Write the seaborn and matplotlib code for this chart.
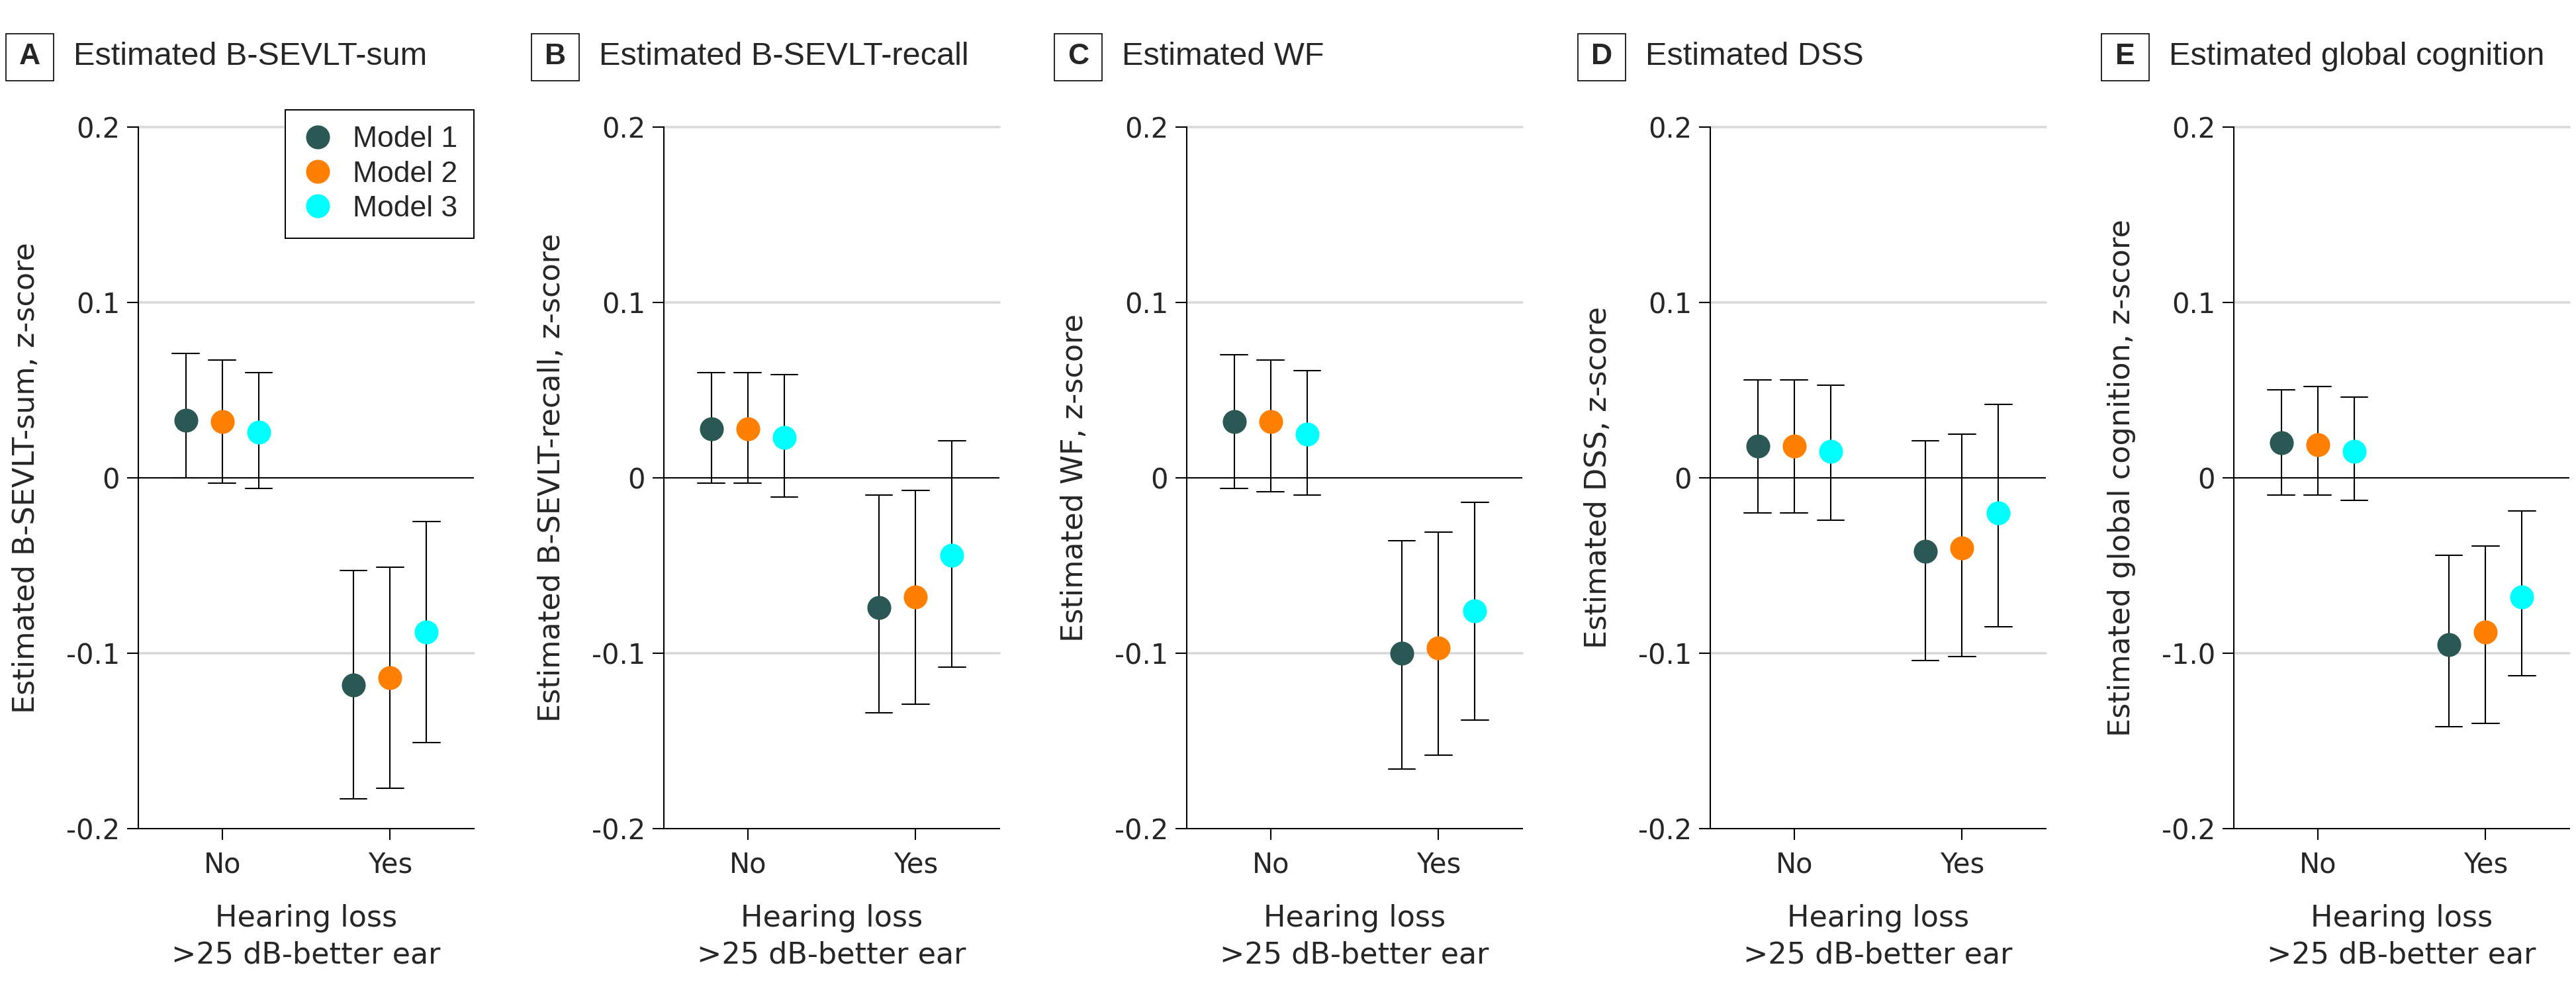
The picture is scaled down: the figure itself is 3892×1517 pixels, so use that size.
import numpy as np
import pandas as pd
import matplotlib
matplotlib.use('Agg')
import matplotlib.pyplot as plt
from matplotlib.lines import Line2D
from matplotlib.patches import Rectangle
import seaborn as sns

groups = ['No', 'Yes']
models = ['Model 1', 'Model 2', 'Model 3']
palette = ['#2b5755', '#ff8000', '#00ffff']

letters = ['A', 'B', 'C', 'D', 'E']
titles = ['Estimated B-SEVLT-sum', 'Estimated B-SEVLT-recall', 'Estimated WF',
          'Estimated DSS', 'Estimated global cognition']
ylabels = ['Estimated B-SEVLT-sum, z-score', 'Estimated B-SEVLT-recall, z-score',
           'Estimated WF, z-score', 'Estimated DSS, z-score',
           'Estimated global cognition, z-score']
yticks = [-0.2, -0.1, 0, 0.1, 0.2]
ytick_labels = ['-0.2', '-0.1', '0', '0.1', '0.2']
ytick_labels_e = ['-0.2', '-1.0', '0', '0.1', '0.2']

# order: No M1, No M2, No M3, Yes M1, Yes M2, Yes M3
sum_est = [0.033, 0.032, 0.026, -0.118, -0.114, -0.088]
sum_lo = [0.000, -0.003, -0.006, -0.183, -0.177, -0.151]
sum_hi = [0.071, 0.067, 0.060, -0.053, -0.051, -0.025]

recall_est = [0.028, 0.028, 0.023, -0.074, -0.068, -0.044]
recall_lo = [-0.003, -0.003, -0.011, -0.134, -0.129, -0.108]
recall_hi = [0.060, 0.060, 0.059, -0.010, -0.007, 0.021]

wf_est = [0.032, 0.032, 0.025, -0.100, -0.097, -0.076]
wf_lo = [-0.006, -0.008, -0.010, -0.166, -0.158, -0.138]
wf_hi = [0.070, 0.067, 0.061, -0.036, -0.031, -0.014]

dss_est = [0.018, 0.018, 0.015, -0.042, -0.040, -0.020]
dss_lo = [-0.020, -0.020, -0.024, -0.104, -0.102, -0.085]
dss_hi = [0.056, 0.056, 0.053, 0.021, 0.025, 0.042]

glob_est = [0.020, 0.019, 0.015, -0.095, -0.088, -0.068]
glob_lo = [-0.010, -0.010, -0.013, -0.142, -0.140, -0.113]
glob_hi = [0.050, 0.052, 0.046, -0.044, -0.039, -0.019]

panels = [(sum_est, sum_lo, sum_hi), (recall_est, recall_lo, recall_hi),
          (wf_est, wf_lo, wf_hi), (dss_est, dss_lo, dss_hi),
          (glob_est, glob_lo, glob_hi)]


def long_table(est, lo, hi):
    rows = []
    for i, (e, l, h) in enumerate(zip(est, lo, hi)):
        for v in (l, e, h):
            rows.append({'hearing': groups[i // 3], 'model': models[i % 3], 'z': v})
    return pd.DataFrame(rows)


sns.set_style('ticks')
plt.rcParams['font.family'] = 'DejaVu Sans'
head_font = ['Liberation Sans', 'DejaVu Sans']

W, H = 3892, 1517
fig = plt.figure(figsize=(W / 200, H / 200), dpi=200)
lefts = [209, 1003, 1793, 2584, 3375]

for k, (est, lo, hi) in enumerate(panels):
    ax = fig.add_axes([lefts[k] / W, 1 - 1252 / H, 507 / W, 1060 / H])
    df = long_table(est, lo, hi)

    for yv in (0.2, 0.1, -0.1):
        ax.axhline(yv, color='#d9d9d9', lw=1.3, zorder=0, clip_on=False)
    ax.axhline(0, color='black', lw=0.75, zorder=1)

    sns.pointplot(data=df, x='hearing', y='z', hue='model', order=groups,
                  hue_order=models, palette=palette, estimator='median',
                  errorbar=lambda v: (v.min(), v.max()), dodge=0.435, capsize=0.16,
                  linestyle='none', markersize=13, markeredgewidth=0,
                  err_kws={'color': 'black', 'linewidth': 0.75, 'zorder': 2},
                  zorder=3, legend=False, ax=ax)

    ax.set_ylim(-0.2, 0.2)
    ax.set_xlim(-0.5, 1.5)
    ax.set_yticks(yticks)
    ax.set_yticklabels(ytick_labels_e if k == 4 else ytick_labels)
    sns.despine(ax=ax)
    for s in ('left', 'bottom'):
        ax.spines[s].set_linewidth(0.75)
        ax.spines[s].set_color('black')
    ax.tick_params(axis='both', length=6, width=0.75, color='black', labelsize=15)
    ax.tick_params(axis='y', pad=4)
    ax.tick_params(axis='x', pad=6)
    ax.set_xlabel('Hearing loss\n>25 dB-better ear', fontsize=16, labelpad=14,
                  linespacing=1.35)
    ax.set_ylabel(ylabels[k], fontsize=16, labelpad=14)

    # panel letter box and title
    ax.add_patch(Rectangle((-200 / 507, (1252 - 122) / 1060), 72 / 507, 71 / 1060,
                           transform=ax.transAxes, fill=False, edgecolor='black',
                           lw=0.6, clip_on=False))
    ax.text(-164 / 507, (1252 - 86) / 1060, letters[k], transform=ax.transAxes,
            ha='center', va='center', fontsize=16, fontweight='bold', family=head_font)
    ax.text(-98 / 507, (1252 - 86) / 1060, titles[k], transform=ax.transAxes,
            ha='left', va='center', fontsize=17.5, family=head_font)

    if k == 0:
        handles = [Line2D([], [], marker='o', ls='none', color=c, markersize=13,
                          markeredgewidth=0) for c in palette]
        leg = ax.legend(handles, models, loc='upper right',
                        bbox_to_anchor=(1, 1 + 26 / 1060), borderaxespad=0,
                        frameon=True, fancybox=False, framealpha=1,
                        edgecolor='black', handlelength=1.1, handletextpad=0.65,
                        borderpad=0.55, labelspacing=0.25,
                        prop={'family': head_font, 'size': 16})
        leg.get_frame().set_linewidth(0.7)

fig.savefig('out.png', dpi=200, facecolor='white')
